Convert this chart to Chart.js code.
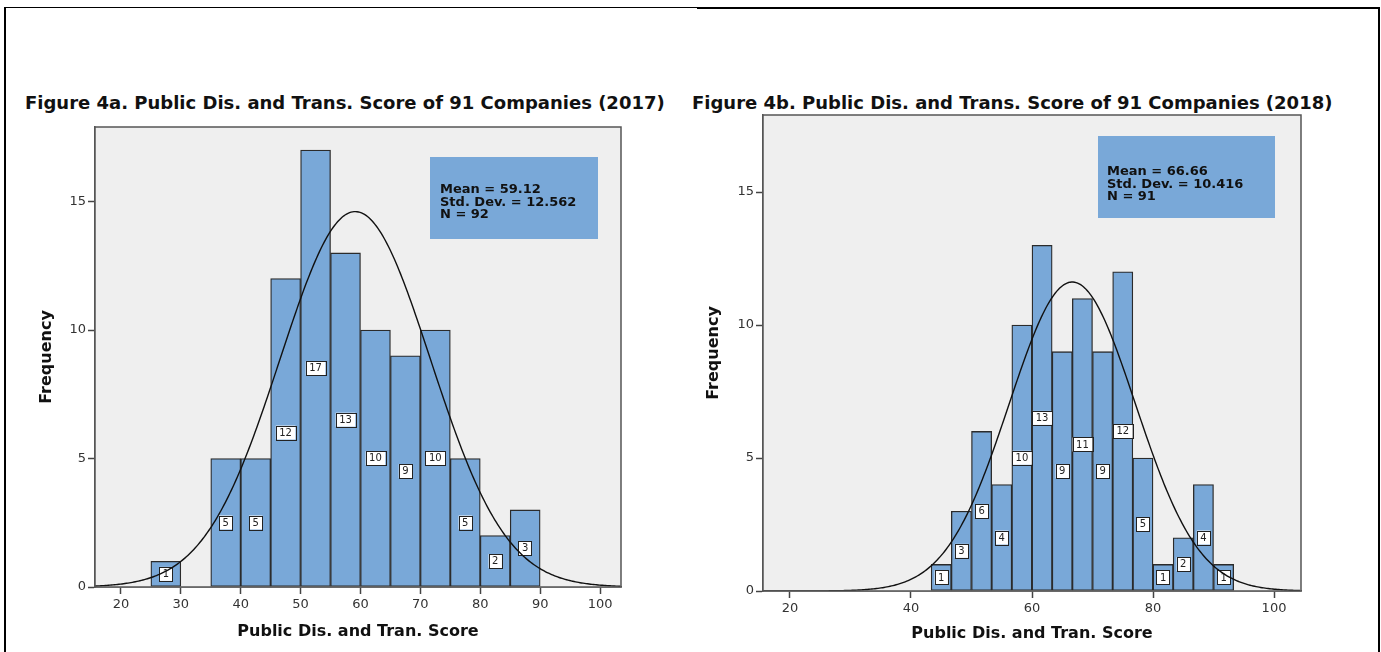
<!DOCTYPE html>
<html>
<head>
<meta charset="utf-8">
<script src="https://cdn.jsdelivr.net/npm/chart.js@4.4.1/dist/chart.umd.min.js"></script>
<style>
  html, body { margin: 0; padding: 0; background: #fff; }
  body { width: 1381px; height: 652px; position: relative; overflow: hidden; font-family: 'DejaVu Sans', sans-serif; }
  .frame { position: absolute; left: 4px; top: 7px; width: 1372px; height: 660px; border-left: 2px solid #000; border-right: 2px solid #000; border-top: 1px solid #000; }
  .frame-top-right { position: absolute; left: 697px; top: 7px; width: 681px; height: 2px; background: #000; }
  .fig-title { position: absolute; top: 92px; font-weight: bold; font-size: 18px; line-height: 22px; color: #111; white-space: nowrap; }
  .chart-box { position: absolute; top: 0; height: 652px; }
</style>
</head>
<body>
<div class="frame"></div>
<div class="frame-top-right"></div>

<div class="fig-title" style="left:25px">Figure 4a. Public Dis. and Trans. Score of 91 Companies (2017)</div>
<div class="fig-title" style="left:692px">Figure 4b. Public Dis. and Trans. Score of 91 Companies (2018)</div>

<div class="chart-box" style="left:0; width:690px;"><canvas id="hist2017"></canvas></div>
<div class="chart-box" style="left:690px; width:691px;"><canvas id="hist2018"></canvas></div>

<script>
// --- data ---
const binEdges2017 = [25, 30, 35, 40, 45, 50, 55, 60, 65, 70, 75, 80, 85, 90];
const counts2017 = [1, 0, 5, 5, 12, 17, 13, 10, 9, 10, 5, 2, 3];
const stats2017 = { mean: 59.12, sd: 12.562, n: 92 };
const statLines2017 = ['Mean = 59.12', 'Std. Dev. = 12.562', 'N = 92'];

const binEdges2018 = [43.333, 46.667, 50, 53.333, 56.667, 60, 63.333, 66.667, 70, 73.333, 76.667, 80, 83.333, 86.667, 90, 93.333];
const counts2018 = [1, 3, 6, 4, 10, 13, 9, 11, 9, 12, 5, 1, 2, 4, 1];
const stats2018 = { mean: 66.66, sd: 10.416, n: 91 };
const statLines2018 = ['Mean = 66.66', 'Std. Dev. = 10.416', 'N = 91'];

const xTicks2017 = [20, 30, 40, 50, 60, 70, 80, 90, 100];
const xTicks2018 = [20, 40, 60, 80, 100];
const xRange2017 = [15.67, 103.5];
const xRange2018 = [15.54, 104.46];
const yTicks = [0, 5, 10, 15];
const yMax = 17.9;

const xTitle = 'Public Dis. and Tran. Score';
const yTitle = 'Frequency';

Chart.defaults.font.family = "'DejaVu Sans', sans-serif";
Chart.defaults.color = '#333';

// normal curve scaled to the histogram (N * bin width * pdf)
function normalCurve(stats, binWidth, range) {
  const pts = [];
  for (let x = range[0]; x <= range[1] + 0.001; x += 0.25) {
    const z = (x - stats.mean) / stats.sd;
    const y = stats.n * binWidth * Math.exp(-0.5 * z * z) / (stats.sd * Math.sqrt(2 * Math.PI));
    pts.push({ x: x, y: y });
  }
  return pts;
}

function barPoints(edges, counts) {
  const pts = [];
  counts.forEach((c, i) => {
    if (c > 0) pts.push({ x: (edges[i] + edges[i + 1]) / 2, y: c });
  });
  return pts;
}

// plot background, frame, count labels and stats box
const histDecor = {
  id: 'histDecor',
  beforeDatasetsDraw(chart) {
    const { ctx, chartArea: a } = chart;
    ctx.save();
    ctx.fillStyle = '#efefef';
    ctx.fillRect(a.left, a.top, a.right - a.left, a.bottom - a.top);
    ctx.restore();
  },
  afterDatasetDraw(chart, args) {
    if (chart.data.datasets[args.index].type !== 'bar') return;
    const ctx = chart.ctx;
    ctx.save();
    ctx.font = '10px "DejaVu Sans"';
    ctx.textAlign = 'center';
    ctx.textBaseline = 'middle';
    args.meta.data.forEach((bar, i) => {
      const val = chart.data.datasets[args.index].data[i].y;
      const txt = String(val);
      const w = ctx.measureText(txt).width + 7;
      const h = 14;
      const cy = (bar.y + bar.base) / 2;
      ctx.fillStyle = '#fff';
      ctx.fillRect(bar.x - w / 2, cy - h / 2, w, h);
      ctx.strokeStyle = '#222';
      ctx.lineWidth = 1;
      ctx.strokeRect(Math.round(bar.x - w / 2) + 0.5, Math.round(cy - h / 2) + 0.5, Math.round(w), h);
      ctx.fillStyle = '#222';
      ctx.fillText(txt, bar.x, cy + 0.5);
    });
    ctx.restore();
  },
  afterDraw(chart, args, opts) {
    const { ctx, chartArea: a } = chart;
    ctx.save();
    ctx.strokeStyle = '#555';
    ctx.lineWidth = 1.5;
    ctx.strokeRect(a.left, a.top, a.right - a.left, a.bottom - a.top);
    // stats box
    const b = opts.box;
    const bx = a.left + b.dx, by = a.top + b.dy;
    ctx.fillStyle = '#79a8d8';
    ctx.fillRect(bx, by, b.w, b.h);
    ctx.fillStyle = '#111';
    ctx.font = 'bold 13px "DejaVu Sans"';
    ctx.textBaseline = 'middle';
    ctx.textAlign = 'left';
    b.lines.forEach((t, i) => {
      ctx.fillText(t, bx + b.tx, by + b.ty + i * 12.5);
    });
    ctx.restore();
  }
};

function makeHist(id, cfg) {
  const binWidth = cfg.edges[1] - cfg.edges[0];
  return new Chart(document.getElementById(id), {
    data: {
      datasets: [
        {
          type: 'line',
          data: normalCurve(cfg.stats, binWidth, cfg.range),
          borderColor: '#111',
          borderWidth: 1.4,
          pointRadius: 0,
          tension: 0,
          order: 0
        },
        {
          type: 'bar',
          data: barPoints(cfg.edges, cfg.counts),
          backgroundColor: '#79a8d8',
          borderColor: '#2b2b2b',
          borderWidth: 1.3,
          borderSkipped: false,
          barPercentage: 1,
          categoryPercentage: 1,
          order: 1
        }
      ]
    },
    options: {
      responsive: false,
      animation: false,
      events: [],
      layout: { padding: { top: cfg.top, right: cfg.right, left: 0, bottom: 0 } },
      plugins: {
        legend: { display: false },
        tooltip: { enabled: false },
        histDecor: { box: cfg.box }
      },
      scales: {
        x: {
          type: 'linear',
          offset: false,
          min: cfg.range[0],
          max: cfg.range[1],
          afterBuildTicks: (s) => { s.ticks = cfg.xTicks.map(v => ({ value: v })); },
          afterFit: (s) => { s.height = cfg.xAxisH; },
          grid: { display: true, offset: false, drawOnChartArea: false, drawTicks: true, tickLength: 7, tickColor: '#444', tickWidth: 1.5 },
          border: { display: true, color: '#555', width: 1.5 },
          ticks: { font: { size: 13 }, color: '#333', padding: 3, maxRotation: 0, autoSkip: false },
          title: { display: true, text: xTitle, font: { size: 16, weight: 'bold' }, color: '#111', padding: { top: 0, bottom: cfg.xTitlePad } }
        },
        y: {
          type: 'linear',
          min: 0,
          max: yMax,
          afterBuildTicks: (s) => { s.ticks = yTicks.map(v => ({ value: v })); },
          afterFit: (s) => { s.width = cfg.yAxisW; },
          grid: { display: true, drawOnChartArea: false, drawTicks: true, tickLength: 7, tickColor: '#444', tickWidth: 1.5 },
          border: { display: true, color: '#555', width: 1.5 },
          ticks: { font: { size: 13 }, color: '#333', padding: 2 },
          title: { display: true, text: yTitle, font: { size: 16, weight: 'bold' }, color: '#111', padding: { top: cfg.yTitlePad, bottom: 0 } }
        }
      }
    },
    plugins: [histDecor]
  });
}

function sizeCanvas(id, w, h) {
  const c = document.getElementById(id);
  c.width = w; c.height = h;
  c.style.width = w + 'px'; c.style.height = h + 'px';
}
sizeCanvas('hist2017', 690, 652);
sizeCanvas('hist2018', 691, 652);

makeHist('hist2017', {
  edges: binEdges2017, counts: counts2017, stats: stats2017, xTicks: xTicks2017, range: xRange2017,
  top: 127, right: 69, xAxisH: 65, yAxisW: 95, xTitlePad: 11, yTitlePad: 37,
  box: { dx: 335, dy: 30, w: 168, h: 82, tx: 10, ty: 33, lines: statLines2017 }
});

makeHist('hist2018', {
  edges: binEdges2018, counts: counts2018, stats: stats2018, xTicks: xTicks2018, range: xRange2018,
  top: 115, right: 80, xAxisH: 61, yAxisW: 73, xTitlePad: 9, yTitlePad: 14,
  box: { dx: 335, dy: 21, w: 177, h: 82, tx: 9, ty: 36, lines: statLines2018 }
});
</script>
</body>
</html>
